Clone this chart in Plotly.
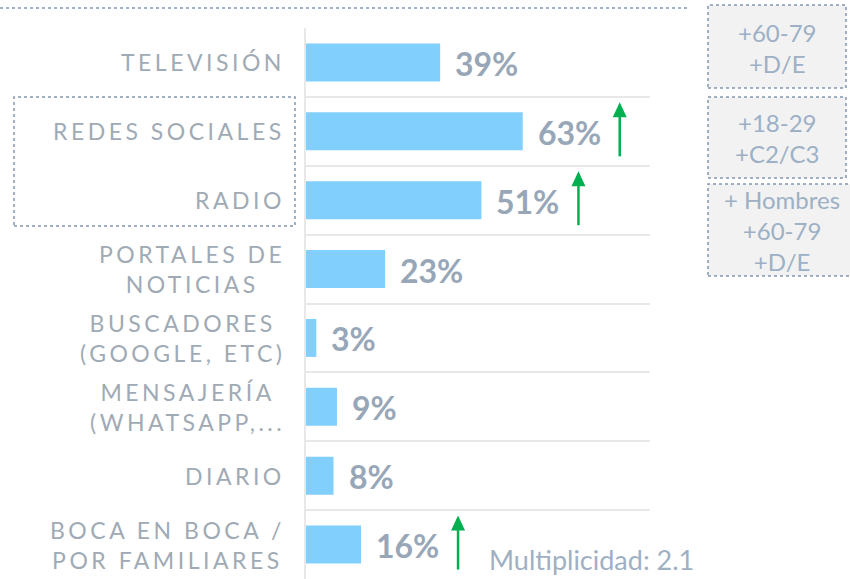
import plotly.graph_objects as go

categories = ["TELEVISIÓN", "REDES SOCIALES", "RADIO", "PORTALES DE<br>NOTICIAS",
              "BUSCADORES<br>(GOOGLE, ETC)", "MENSAJERÍA<br>(WHATSAPP,...",
              "DIARIO", "BOCA EN BOCA /<br>POR FAMILIARES"]
values = [39, 63, 51, 23, 3, 9, 8, 16]
arrow_up = ["REDES SOCIALES", "RADIO", "BOCA EN BOCA /<br>POR FAMILIARES"]
side_notes = ["+60-79<br>+D/E", "+18-29<br>+C2/C3", "+ Hombres<br>+60-79<br>+D/E"]
footnote = "Multiplicidad: 2.1"

W, H = 850, 579
def px(x):
    return x / W
def py(y):
    return (H - y) / H

BAR = "#80CFFC"
LBL = "#A0AAB5"
VAL = "#98A7B8"
DOT = "#8497B0"
GRID = "#E8E8E8"
GREEN = "#00B050"

fig = go.Figure()
fig.add_trace(go.Bar(x=values, y=categories, orientation="h",
                     marker=dict(color=BAR, line=dict(width=0)), width=0.55,
                     hoverinfo="skip"))

annotations = []
for c in categories:
    txt = "<br>".join(f'<span style="letter-spacing:3.5px">{ln}</span>' for ln in c.split("<br>"))
    annotations.append(dict(x=px(287), xref="paper", y=c, yref="y", text=txt,
                            xanchor="right", yanchor="middle", align="center",
                            showarrow=False,
                            font=dict(family="Lato", size=23, color=LBL)))
for c, v in zip(categories, values):
    annotations.append(dict(x=v, xref="x", y=c, yref="y", text=f"{v}%",
                            xanchor="left", yanchor="middle", xshift=13, yshift=-1,
                            showarrow=False,
                            font=dict(family="Lato", size=32, color=VAL, weight="bold")))
note_pos = [(777, 48), (777, 138), (782, 231)]
for t, (nx, ny) in zip(side_notes, note_pos):
    annotations.append(dict(x=px(nx), y=py(ny), xref="paper", yref="paper", text=t,
                            xanchor="center", yanchor="middle", align="center",
                            showarrow=False,
                            font=dict(family="Lato", size=24, color="#9DB0C5")))
annotations.append(dict(x=px(487), y=py(559), xref="paper", yref="paper", text=footnote,
                        xanchor="left", yanchor="middle", showarrow=False,
                        font=dict(family="Lato", size=27, color="#A0B0C3")))

shapes = [
    dict(type="line", xref="paper", yref="paper", x0=0, x1=px(690), y0=py(8), y1=py(8),
         line=dict(color=DOT, width=1.5, dash="dot")),
    dict(type="rect", xref="paper", yref="paper", x0=px(14), x1=px(295), y0=py(226), y1=py(97),
         line=dict(color=DOT, width=1.5, dash="dot")),
]
for (x0, x1, y0, y1) in [(708, 846, 5, 88), (708, 846, 97, 178), (708, 852, 184, 276)]:
    shapes.append(dict(type="rect", xref="paper", yref="paper", x0=px(x0), x1=px(x1),
                       y0=py(y1), y1=py(y0), fillcolor="#F2F2F2",
                       line=dict(color=DOT, width=1.5, dash="dot"), layer="below"))
# green "up" arrows, anchored to the bar value / category row
for i, (c, v) in enumerate(zip(categories, values)):
    if c in arrow_up:
        common = dict(xref="x", yref="y", xsizemode="pixel", xanchor=v,
                      ysizemode="pixel", yanchor=i, layer="above")
        shapes.append(dict(type="line", x0=97, x1=97, y0=-25, y1=16,
                           line=dict(color=GREEN, width=2.5), **common))
        shapes.append(dict(type="path", path="M 90 14 L 104 14 L 97 29 Z",
                           fillcolor=GREEN, line=dict(width=0), **common))

fig.update_layout(
    width=W, height=H, margin=dict(l=0, r=0, t=0, b=0, pad=0),
    paper_bgcolor="white", plot_bgcolor="white", showlegend=False,
    xaxis=dict(domain=[px(306), px(650)], range=[0, 100], showgrid=False, zeroline=False,
               showticklabels=False, ticks=""),
    yaxis=dict(domain=[0, py(28)], type="category", categoryorder="array",
               categoryarray=categories, range=[len(categories) - 0.5, -0.5],
               autorange=False, tickson="boundaries",
               showgrid=True, gridcolor=GRID, gridwidth=2, showticklabels=False, ticks="",
               showline=True, linecolor=GRID, linewidth=2, zeroline=False),
    annotations=annotations, shapes=shapes,
)
fig.write_html("out.html", config={"displayModeBar": False, "staticPlot": True},
               post_script="document.body.style.margin='0';document.body.style.overflow='hidden';")
